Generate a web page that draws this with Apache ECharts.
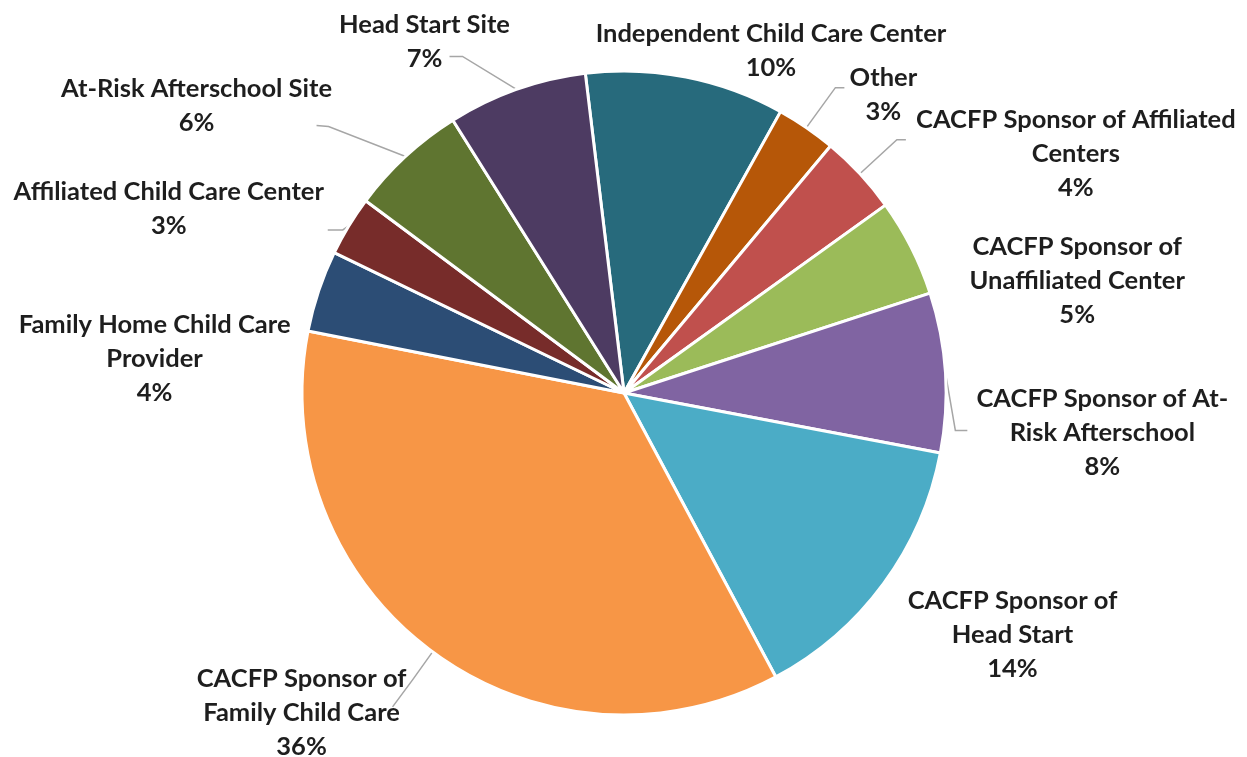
<!DOCTYPE html>
<html>
<head>
<meta charset="utf-8">
<script src="https://cdn.jsdelivr.net/npm/echarts@6/dist/echarts.min.js"></script>
<style>
html,body{margin:0;padding:0;background:#fff;}
#chart{width:1247px;height:757px;}
</style>
</head>
<body>
<div id="chart"></div>
<script>
// ---- data ----
const categories = [
  'Independent Child Care Center',
  'Other',
  'CACFP Sponsor of Affiliated\nCenters',
  'CACFP Sponsor of\nUnaffiliated Center',
  'CACFP Sponsor of At-\nRisk Afterschool',
  'CACFP Sponsor of\nHead Start',
  'CACFP Sponsor of\nFamily Child Care',
  'Family Home Child Care\nProvider',
  'Affiliated Child Care Center',
  'At-Risk Afterschool Site',
  'Head Start Site'
];
const values = [10.0, 3.0, 4.0, 4.9, 8.0, 14.2, 35.9, 4.1, 3.0, 5.9, 7.0];
const colors = ['#276A7C', '#B65708', '#C0504D', '#9BBB59', '#8064A2', '#4BACC6',
                '#F79646', '#2C4D75', '#772C2A', '#5F7530', '#4D3B62'];

// ---- layout / style ----
const CX = 624, CY = 393, R = 322;
const START = 96.9; // degrees, echarts convention
// label offset from slice mid-edge anchor; leader: [elbow, end] offsets (null = none)
const labelStyle = [
  {o: [85, -26], lead: null},
  {o: [77, -33], lead: [[29, -40], [38, -40]]},
  {o: [216, -20], lead: [[37, -34], [46, -34]]},
  {o: [166, 33], lead: null},
  {o: [157, 60], lead: [[10, 58], [22, 58]]},
  {o: [129, 51], lead: null},
  {o: [-131, 61], lead: [[-20, 28], [-40, 55]]},
  {o: [-164, 68], lead: null},
  {o: [-180, -17], lead: [[-6, 4], [-21, 4]]},
  {o: [-209, -51], lead: [[-77, -30], [-89, -31]]},
  {o: [-92, -48], lead: [[-54, -33], [-67, -33]]}
];

const total = values.reduce((a, b) => a + b, 0);
const anchors = [];
(function () {
  let acc = 0;
  const startCW = 90 - START; // clockwise from top
  values.forEach(v => {
    const mid = startCW + (acc + v / 2) / total * 360;
    const rad = mid * Math.PI / 180;
    anchors.push([CX + R * Math.sin(rad), CY - R * Math.cos(rad)]);
    acc += v;
  });
})();

const chart = echarts.init(document.getElementById('chart'), null, {renderer: 'canvas'});
chart.setOption({
  animation: false,
  backgroundColor: '#ffffff',
  series: [{
    type: 'pie',
    center: [CX, CY],
    radius: [0, R],
    startAngle: START,
    clockwise: true,
    avoidLabelOverlap: false,
    itemStyle: {borderColor: '#ffffff', borderWidth: 3},
    label: {
      show: true,
      position: 'outside',
      fontFamily: 'Lato',
      fontWeight: 'bold',
      fontSize: 25.5,
      lineHeight: 34,
      color: '#1e1e1e',
      formatter: p => p.data.label + '\n' + Math.round(p.value) + '%'
    },
    labelLine: {show: true, lineStyle: {color: '#a6a6a6', width: 1.5}},
    labelLayout: function (params) {
      const i = params.dataIndex;
      const a = anchors[i];
      const s = labelStyle[i];
      const res = {x: a[0] + s.o[0], y: a[1] + s.o[1], align: 'center', verticalAlign: 'middle'};
      if (s.lead) {
        res.labelLinePoints = [
          [a[0], a[1]],
          [a[0] + s.lead[0][0], a[1] + s.lead[0][1]],
          [a[0] + s.lead[1][0], a[1] + s.lead[1][1]]
        ];
      }
      return res;
    },
    data: values.map((v, i) => ({
      value: v,
      name: categories[i].replace('\n', ' '),
      label: categories[i],
      itemStyle: {color: colors[i]},
      labelLine: {show: !!labelStyle[i].lead}
    }))
  }]
});
</script>
</body>
</html>
